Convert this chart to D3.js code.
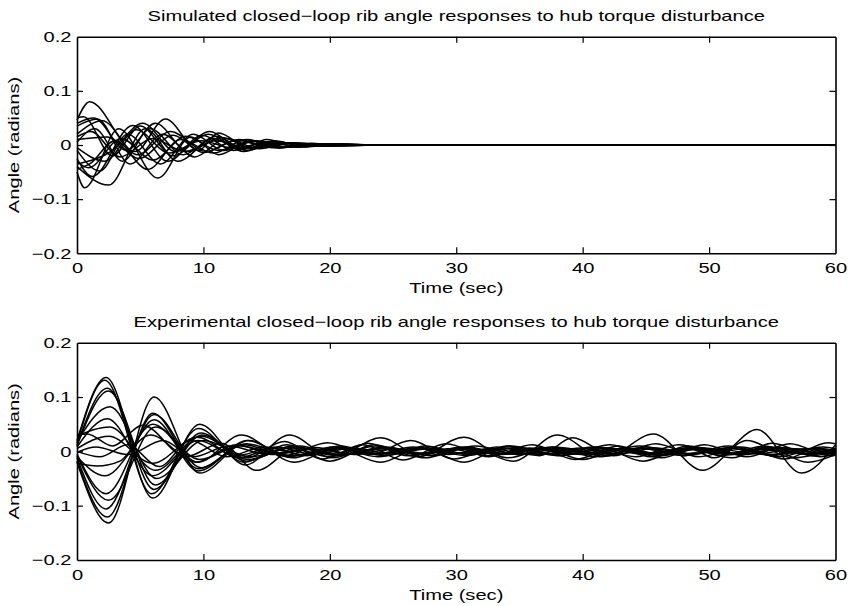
<!DOCTYPE html>
<html>
<head>
<meta charset="utf-8">
<script src="https://cdn.jsdelivr.net/npm/d3@7"></script>
<style>
body { margin: 0; background: #fff; }
text { font-family: Helvetica, "Liberation Sans", Arial, sans-serif; fill: #000; }
</style>
</head>
<body>
<svg id="chart"></svg>
<script>
// chart text
const titles = [
    "Simulated closed\u2212loop rib angle responses to hub torque disturbance",
    "Experimental closed\u2212loop rib angle responses to hub torque disturbance"
];
const xLabel = "Time (sec)",
    yLabel = "Angle (radians)";

const xTicks = [0, 10, 20, 30, 40, 50, 60];
const yTicks = [-0.2, -0.1, 0, 0.1, 0.2];

// simulated responses: [time (sec), angle (rad)] read at turning points
const simCurves = [
    [[0,0.046],[1.0,0.08],[4.6,-0.012],[7.0,0.048],[9.6,-0.01],[11.2,0.022],[13.6,-0.006],[15.6,0.008],[18,-0.003],[20.5,0.002],[24,0],[60,0]],
    [[0,-0.05],[0.6,-0.079],[3.3,0.03],[6.4,-0.061],[9.0,0.015],[11.2,-0.018],[13.8,0.008],[16,-0.006],[18.5,0.003],[21,-0.001],[24,0],[60,0]],
    [[0,0.05],[0.5,0.052],[2.8,-0.02],[5.0,0.035],[7.6,-0.02],[10.5,0.025],[13,-0.008],[15,0.01],[17.5,-0.004],[20,0.002],[24,0],[60,0]],
    [[0,-0.04],[2.5,-0.074],[5.4,0.03],[8,-0.03],[10.8,0.012],[13.2,-0.012],[15.8,0.006],[18.2,-0.003],[21,0.001],[24,0],[60,0]],
    [[0,0.035],[1.6,0.048],[4.2,-0.035],[6.8,0.02],[9.3,-0.022],[11.8,0.012],[14.4,-0.007],[17,0.004],[20,-0.001],[24,0],[60,0]],
    [[0,-0.025],[1.2,-0.058],[4.4,0.036],[7.2,-0.03],[9.9,0.018],[12.4,-0.01],[15,0.006],[17.6,-0.003],[20.5,0.001],[24,0],[60,0]],
    [[0,0.02],[2.0,0.045],[4.8,-0.018],[7.4,0.025],[10.2,-0.012],[12.8,0.01],[15.4,-0.005],[18,0.002],[24,0],[60,0]],
    [[0,-0.01],[1.8,-0.048],[4.0,0.02],[6.6,-0.035],[9.2,0.02],[11.6,-0.01],[14.2,0.008],[16.8,-0.004],[19.6,0.002],[24,0],[60,0]],
    [[0,0.005],[1.4,0.03],[3.6,-0.03],[5.8,0.03],[8.4,-0.018],[11,0.016],[13.4,-0.01],[16,0.005],[18.6,-0.002],[24,0],[60,0]],
    [[0,-0.005],[2.2,-0.03],[4.7,0.028],[7.3,-0.015],[9.8,0.008],[12.4,-0.006],[15,0.004],[24,0],[60,0]],
    [[0,0.01],[2.4,0.015],[4.9,-0.025],[7.6,0.018],[10,-0.014],[12.6,0.009],[15.2,-0.004],[24,0],[60,0]],
    [[0,-0.045],[1.0,-0.035],[3.0,0.008],[5.6,-0.045],[8.2,0.01],[10.8,-0.015],[13.4,0.01],[16.2,-0.004],[19,0.002],[24,0],[60,0]],
    [[0,0.04],[1.3,0.05],[3.9,-0.01],[6.2,0.04],[8.8,-0.012],[11.4,0.014],[14,-0.006],[16.6,0.004],[19.2,-0.002],[24,0],[60,0]],
    [[0,-0.03],[0.9,-0.042],[3.5,0.012],[6.0,-0.028],[8.6,0.016],[11.2,-0.01],[13.8,0.007],[16.4,-0.004],[19,0.002],[24,0],[60,0]],
    [[0,0.015],[1.1,0.025],[3.4,-0.022],[6.0,0.012],[8.5,-0.012],[11,0.008],[13.6,-0.006],[16.2,0.003],[24,0],[60,0]],
    [[0,-0.035],[2.7,-0.012],[5.2,0.04],[7.8,-0.012],[10.4,0.02],[13,-0.008],[15.6,0.006],[18.4,-0.002],[24,0],[60,0]]
];

// experimental responses: [time (sec), angle (rad)] read at turning points
const expCurves = [
    [[0,0.02],[2.3,0.136],[6.0,-0.086],[9.7,0.05],[13.3,-0.025],[16.8,0.03],[20.2,-0.012],[23.6,0.01],[27,-0.006],[30.5,0.008],[34,-0.005],[37.5,0.006],[41,-0.006],[44.5,0.01],[48,-0.008],[51.5,0.006],[55,-0.006],[58.5,0.005],[60,0.002]],
    [[0,0.015],[2.2,0.131],[5.9,-0.078],[9.6,0.042],[13.2,-0.02],[16.6,0.012],[20,-0.018],[23.5,0.012],[27,-0.01],[30.6,0.026],[34,-0.012],[37.6,0.008],[41,-0.01],[44.5,0.006],[48,-0.008],[51.5,0.01],[55,-0.008],[58.4,0.006],[60,0]],
    [[0,0.012],[2.4,0.116],[6.1,-0.07],[9.8,0.034],[13.4,-0.018],[17,0.01],[20.5,-0.008],[24,0.025],[27.5,-0.012],[31,0.008],[34.5,-0.018],[38,0.03],[41.5,-0.01],[45,0.008],[48.5,-0.006],[52,0.008],[55.5,-0.01],[59,0.008],[60,0.005]],
    [[0,0.01],[2.5,0.111],[6.2,-0.062],[9.9,0.03],[13.5,-0.015],[17.2,0.008],[20.8,-0.006],[24.4,0.008],[28,-0.008],[31.5,0.01],[35,-0.006],[38.5,0.006],[42,-0.008],[45.6,0.032],[49.5,-0.035],[53,0.02],[56.6,-0.012],[60,0.006]],
    [[0,-0.02],[2.5,-0.132],[6.1,0.1],[9.7,-0.04],[13.6,0.02],[17.2,-0.02],[20.8,0.01],[24.3,-0.008],[27.8,0.006],[31.3,-0.006],[34.8,0.007],[38.3,-0.008],[41.8,0.006],[45.3,-0.006],[48.8,0.008],[52.3,-0.006],[55.8,0.006],[59.3,-0.004],[60,-0.002]],
    [[0,-0.018],[2.4,-0.121],[6.0,0.07],[9.6,-0.032],[13.2,0.012],[16.8,-0.01],[20.3,0.008],[23.8,-0.01],[27.3,0.006],[30.8,-0.008],[34.3,0.01],[37.8,-0.006],[41.3,0.008],[44.8,-0.018],[48.3,0.01],[51.8,-0.006],[55.3,0.008],[58.8,-0.01],[60,-0.004]],
    [[0,-0.012],[2.3,-0.106],[6.1,0.068],[9.8,-0.03],[13.4,0.014],[17,-0.008],[20.5,0.006],[24,-0.02],[27.5,0.01],[31,-0.006],[34.5,0.006],[38,-0.008],[41.5,0.005],[45,-0.006],[48.4,0.006],[50.4,-0.012],[53.8,0.04],[57.3,-0.04],[60,0.012]],
    [[0,0.028],[2.6,0.045],[6.2,-0.035],[9.8,0.028],[13.4,-0.012],[16.4,0.018],[19.4,-0.014],[22.6,0.012],[25.8,-0.016],[29.2,0.014],[32.6,-0.01],[36,0.012],[39.4,-0.015],[42.8,0.01],[46.2,-0.012],[49.6,0.012],[53,-0.01],[56.4,0.014],[59.6,-0.008],[60,-0.007]],
    [[0,-0.022],[1.6,-0.027],[3.4,-0.018],[6.0,0.05],[9.6,-0.02],[13,0.03],[16.4,-0.008],[19.8,0.016],[23.2,-0.006],[26.4,0.02],[29.8,-0.014],[33.2,0.008],[36.6,-0.008],[39.2,0.025],[42.4,-0.008],[45.8,0.014],[49.2,-0.01],[52.6,0.008],[56,-0.014],[59.4,0.016],[60,0.014]],
    [[0,-0.005],[2.3,-0.078],[6.1,0.058],[9.6,-0.036],[13.5,0.02],[17,-0.012],[20.4,0.008],[23.8,-0.006],[27.2,0.007],[30.6,-0.02],[34,0.01],[37.4,-0.006],[40.8,0.008],[44.2,-0.01],[47.6,0.012],[51,-0.008],[54.4,0.01],[57.8,-0.02],[60,-0.006]],
    [[0,0.005],[2.5,0.028],[6.0,-0.022],[9.5,0.026],[12.8,-0.012],[15.8,0.008],[18.8,-0.006],[21.8,0.006],[24.8,-0.005],[27.8,0.005],[30.8,-0.005],[33.8,0.006],[36.8,-0.006],[39.8,0.006],[42.8,-0.005],[45.8,0.006],[48.8,-0.005],[51.8,0.005],[54.8,-0.006],[57.8,0.005],[60,0]],
    [[0,-0.01],[2.2,-0.045],[5.8,0.03],[9.4,-0.02],[12.6,0.012],[15.6,-0.006],[18.6,0.005],[21.6,-0.005],[24.6,0.006],[27.6,-0.004],[30.6,0.005],[33.6,-0.005],[36.6,0.004],[39.6,-0.005],[42.6,0.005],[45.6,-0.004],[48.6,0.005],[51.6,-0.005],[54.6,0.004],[57.6,-0.005],[60,0.002]],
    [[0,0.03],[0.8,0.032],[2.8,0.01],[5.2,0.048],[8.6,-0.01],[11.4,0.015],[14.2,-0.035],[17.6,0.01],[20.8,-0.008],[24,0.006],[27.2,-0.006],[30.4,0.006],[33.6,-0.006],[36.8,0.006],[40,-0.015],[43.2,0.006],[46.4,-0.006],[49.6,0.006],[52.8,-0.006],[56,0.006],[59.2,-0.005],[60,-0.004]],
    [[0,0.0],[1.8,-0.01],[4.0,0.012],[6.5,-0.028],[9.0,0.02],[11.8,-0.01],[14.8,0.008],[17.8,-0.006],[20.8,0.005],[23.8,-0.005],[26.8,0.006],[29.8,-0.004],[32.8,0.005],[35.8,-0.006],[38.8,0.004],[41.8,-0.005],[44.8,0.005],[47.8,-0.005],[50.8,0.004],[53.8,-0.005],[56.8,0.005],[60,-0.003]],
    [[0,0.008],[2.4,0.06],[6.0,-0.045],[9.6,0.02],[12.6,-0.008],[15.4,0.006],[18.2,-0.008],[21,0.006],[23.8,-0.004],[26.6,0.008],[29.4,-0.006],[32.2,0.004],[35,-0.006],[37.8,0.008],[40.6,-0.004],[43.4,0.006],[46.2,-0.008],[49,0.004],[51.8,-0.006],[54.6,0.008],[57.4,-0.004],[60,0.005]],
    [[0,-0.008],[2.5,-0.09],[6.2,0.045],[9.7,-0.015],[12.9,0.01],[15.9,-0.004],[18.9,0.007],[21.9,-0.006],[24.9,0.004],[27.9,-0.007],[30.9,0.006],[33.9,-0.004],[36.9,0.007],[39.9,-0.006],[42.9,0.004],[45.9,-0.007],[48.9,0.006],[51.9,-0.004],[54.9,0.007],[57.9,-0.006],[60,0.002]],
    [[0,0.018],[2.6,0.082],[6.3,-0.05],[10,0.02],[13.7,-0.01],[17,0.006],[20,-0.01],[23,0.015],[26.2,-0.008],[29.4,0.005],[32.6,-0.008],[35.8,0.006],[39,-0.004],[42.2,0.012],[45.4,-0.01],[48.6,0.005],[51.8,-0.012],[55,0.015],[58.2,-0.008],[60,0]],
    [[0,-0.002],[1.5,0.008],[4,-0.006],[6.8,0.02],[9.2,-0.01],[12,0.01],[15,-0.005],[18,0.004],[21,-0.006],[24,0.005],[27,-0.004],[30,0.005],[33,-0.005],[36,0.004],[39,-0.005],[42,0.006],[45,-0.004],[48,0.005],[51,-0.005],[54,0.004],[57,-0.004],[60,0.003]]
];

var width = 848,
    height = 606,
    plotLeft = 77,
    plotRight = 835.5,
    fontSize = 15,
    stretch = 1.34,
    tickLen = 6;

var panels = [
    { top: 36.7, bottom: 253.3, title: titles[0], curves: simCurves },
    { top: 342.7, bottom: 560, title: titles[1], curves: expCurves }
];

var svg = d3.select("#chart")
    .attr("width", width)
    .attr("height", height);

// old print: glyphs wider than the font we have, so stretch along the baseline
const widen = function (selection) {
    selection.each(function () {
        var len = this.getComputedTextLength();
        d3.select(this)
            .attr("textLength", len * stretch)
            .attr("lengthAdjust", "spacingAndGlyphs");
    });
};

const yFormat = function (d) {
    return d === 0 ? "0" : d3.format(".1f")(d).replace("-", "\u2212");
};

panels.forEach(function (p) {
    var x = d3.scaleLinear().domain([0, 60]).range([plotLeft, plotRight]),
        y = d3.scaleLinear().domain([-0.2, 0.2]).range([p.bottom, p.top]);

    var g = svg.append("g");

    var line = d3.line()
        .x(d => x(d[0]))
        .y(d => y(d[1]))
        .curve(d3.curveMonotoneX);

    g.append("g")
        .selectAll("path")
        .data(p.curves)
        .join("path")
        .attr("d", line)
        .attr("fill", "none")
        .attr("stroke", "#000")
        .attr("stroke-width", 1.5)
        .attr("stroke-linejoin", "round");

    // box with inward ticks on all four sides
    var axes = [
        { axis: d3.axisBottom(x).tickValues(xTicks), tr: "translate(0," + p.bottom + ")", labels: true, ends: [0, 60] },
        { axis: d3.axisTop(x).tickValues(xTicks).tickFormat(""), tr: "translate(0," + p.top + ")", labels: false, ends: [0, 60] },
        { axis: d3.axisLeft(y).tickValues(yTicks).tickFormat(yFormat), tr: "translate(" + plotLeft + ",0)", labels: true, ends: [-0.2, 0.2] },
        { axis: d3.axisRight(y).tickValues(yTicks).tickFormat(""), tr: "translate(" + plotRight + ",0)", labels: false, ends: [-0.2, 0.2] }
    ];

    axes.forEach(function (a, i) {
        a.axis.tickSizeInner(-tickLen).tickSizeOuter(0).tickPadding(i === 0 ? 9.5 : 5.5);
        var ag = g.append("g")
            .attr("transform", a.tr)
            .call(a.axis)
            .attr("font-family", null)
            .attr("font-size", fontSize);
        ag.select(".domain").attr("stroke", "#000").attr("stroke-width", 1.6);
        ag.selectAll(".tick line")
            .attr("stroke", "#000")
            .attr("stroke-width", 1.2)
            .filter(d => a.ends.indexOf(d) >= 0)
            .remove();
        if (a.labels) {
            ag.selectAll(".tick text").attr("fill", "#000").call(widen);
        }
    });

    g.append("text")
        .attr("x", (plotLeft + plotRight) / 2)
        .attr("y", p.top - 16)
        .attr("text-anchor", "middle")
        .attr("font-size", fontSize)
        .text(p.title)
        .call(widen);

    g.append("text")
        .attr("x", (plotLeft + plotRight) / 2)
        .attr("y", p.bottom + 39.5)
        .attr("text-anchor", "middle")
        .attr("font-size", fontSize)
        .text(xLabel)
        .call(widen);

    g.append("text")
        .attr("transform", "translate(19," + (p.top + p.bottom) / 2 + ") rotate(-90)")
        .attr("text-anchor", "middle")
        .attr("font-size", fontSize)
        .text(yLabel)
        .call(widen);
});
</script>
</body>
</html>
